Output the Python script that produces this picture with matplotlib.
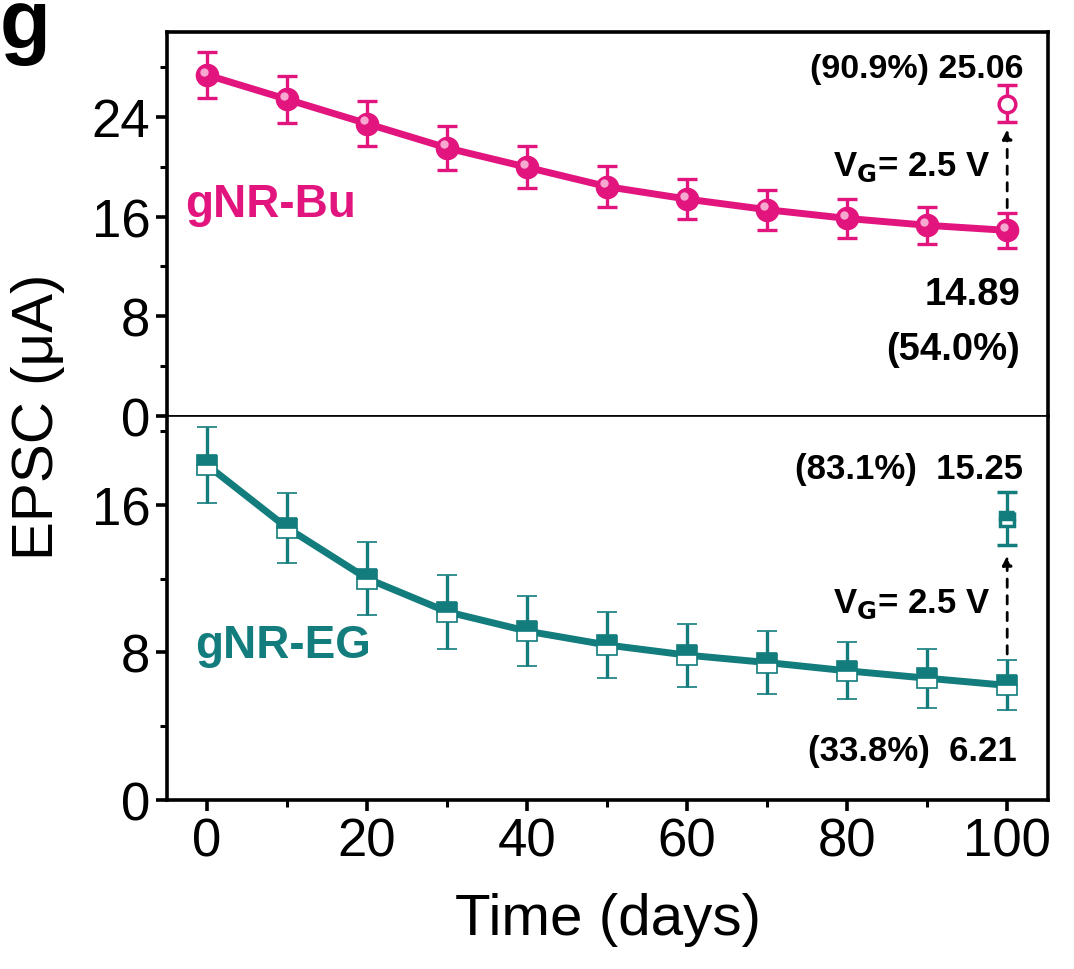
import matplotlib
matplotlib.use("Agg")
import matplotlib.pyplot as plt
from matplotlib.transforms import offset_copy
import numpy as np

plt.rcParams['font.family'] = ['Liberation Sans', 'DejaVu Sans']

# data
days = [0, 10, 20, 30, 40, 50, 60, 70, 80, 90, 100]
bu_epsc = [27.35, 25.4, 23.45, 21.5, 19.95, 18.4, 17.4, 16.55, 15.85, 15.3, 14.89]
bu_err = [1.85, 1.9, 1.8, 1.75, 1.7, 1.65, 1.6, 1.6, 1.55, 1.5, 1.4]
bu_recover = 25.06
bu_recover_err = 1.45

eg_epsc = [18.15, 14.75, 12.0, 10.2, 9.15, 8.4, 7.85, 7.45, 7.0, 6.6, 6.21]
eg_err = [2.05, 1.9, 2.0, 2.0, 1.9, 1.8, 1.7, 1.7, 1.55, 1.6, 1.35]
eg_recover = 15.25
eg_recover_err = 1.45

pink = '#E2147E'
teal = '#137C7C'

fig = plt.figure(figsize=(10.74, 9.70), dpi=100)
ax1 = fig.add_axes([0.1555, 0.570, 0.8203, 0.396])
ax2 = fig.add_axes([0.1555, 0.1742, 0.8203, 0.3958], sharex=ax1)

for ax in (ax1, ax2):
    for s in ax.spines.values():
        s.set_linewidth(2.6)
    ax.tick_params(which='major', direction='out', length=8, width=2.6,
                   labelsize=38, pad=4)
    ax.tick_params(which='minor', direction='out', length=5, width=2.2)
ax1.spines['bottom'].set_linewidth(1.2)
ax2.spines['top'].set_linewidth(1.2)

# top panel: gNR-Bu
ax1.errorbar(days, bu_epsc, yerr=bu_err, color=pink, lw=5, capsize=7,
             elinewidth=2.4, capthick=2.4, marker='o', ms=16, mfc=pink,
             mec=pink, zorder=3)
hl = offset_copy(ax1.transData, fig=fig, x=-2.5, y=2.5, units='points')
ax1.plot(days, bu_epsc, 'o', ms=6, color='#F7A8D0', mec='none',
         transform=hl, zorder=4)
ax1.errorbar([days[-1]], [bu_recover], yerr=[bu_recover_err], color=pink,
             capsize=7, elinewidth=2.4, capthick=2.4, marker='o', ms=12,
             mfc='white', mec=pink, mew=2.5, zorder=3)
ax1.annotate('', xy=(days[-1], bu_recover - bu_recover_err - 0.4),
             xytext=(days[-1], bu_epsc[-1] + bu_err[-1] + 0.2),
             arrowprops=dict(arrowstyle='-|>', ls=(0, (3, 3)), lw=2,
                             color='black', mutation_scale=14))

ax1.set_ylim(0, 30.8)
ax1.set_yticks([0, 8, 16, 24])
ax1.set_yticks([4, 12, 20, 28], minor=True)
ax1.tick_params(axis='x', which='both', bottom=False, labelbottom=False)

tk = dict(fontsize=25, fontweight='bold', ha='right', va='center')
ax1.text(102, 27.85, '(90.9%) 25.06', fontsize=24.5, fontweight='bold',
         ha='right', va='center')
ax1.text(97.9, 20.0, r'V$_\mathbf{G}$= 2.5 V', **tk)
ax1.text(101.6, 9.8, '14.89', fontsize=27.5, fontweight='bold',
         ha='right', va='center')
ax1.text(101.6, 5.4, '(54.0%)', fontsize=27.5, fontweight='bold',
         ha='right', va='center')
ax1.text(-2.7, 17.0, 'gNR-Bu', fontsize=33, fontweight='bold', color=pink,
         ha='left', va='center')

# bottom panel: gNR-EG
ax2.errorbar(days, eg_epsc, yerr=eg_err, color=teal, lw=5, capsize=7,
             elinewidth=2.4, capthick=2.4, marker='s', ms=14,
             fillstyle='top', mfc=teal, mfcalt='white', mec=teal, mew=1.2,
             zorder=3)
ax2.errorbar([days[-1]], [eg_recover], yerr=[eg_recover_err], color=teal,
             capsize=7, elinewidth=2.4, capthick=2.4, marker='s', ms=10,
             fillstyle='top', mfc=teal, mfcalt='white', mec=teal, mew=2.5,
             zorder=3)
ax2.annotate('', xy=(days[-1], eg_recover - eg_recover_err - 0.4),
             xytext=(days[-1], eg_epsc[-1] + eg_err[-1] + 0.2),
             arrowprops=dict(arrowstyle='-|>', ls=(0, (3, 3)), lw=2,
                             color='black', mutation_scale=14))

ax2.set_ylim(0, 20.8)
ax2.set_yticks([0, 8, 16])
ax2.set_yticks([4, 12, 20], minor=True)
ax2.set_xlim(-5, 105.1)
ax2.set_xticks([0, 20, 40, 60, 80, 100])
ax2.set_xticks([10, 30, 50, 70, 90], minor=True)

ax2.text(102, 17.95, '(83.1%)  15.25', **tk)
ax2.text(97.9, 10.65, r'V$_\mathbf{G}$= 2.5 V', **tk)
ax2.text(101.2, 2.7, '(33.8%)  6.21', **tk)
ax2.text(-1.5, 8.4, 'gNR-EG', fontsize=33, fontweight='bold', color=teal,
         ha='left', va='center')

ax2.set_xlabel('Time (days)', fontsize=42, labelpad=18)
fig.text(0.035, 0.57, 'EPSC (μA)', fontsize=42, rotation=90,
         ha='center', va='center')
fig.text(0.0, 0.949, 'g', fontsize=60, fontweight='bold',
         ha='left', va='baseline')

fig.savefig('out.png', dpi=100)
